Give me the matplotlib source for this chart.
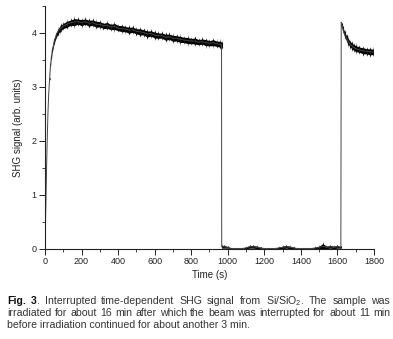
import numpy as np
import matplotlib
matplotlib.use("Agg")
import matplotlib.pyplot as plt
from matplotlib.ticker import MultipleLocator

plt.rcParams['font.family'] = ['Liberation Sans', 'DejaVu Sans']
plt.rcParams['mathtext.fontset'] = 'custom'
plt.rcParams['mathtext.rm'] = 'Liberation Sans'

# beam on (first ~16 min)
times1 = [0, 4, 8, 12, 16, 20, 25, 30, 35, 40, 50, 60, 70, 80, 90, 100,
          120, 140, 160, 180, 200, 220, 240, 260, 280, 300, 320, 340, 360, 380, 400,
          420, 440, 460, 480, 500, 520, 540, 560, 580, 600, 620, 640, 660, 680, 700,
          720, 740, 760, 780, 800, 820, 840, 860, 880, 900, 920, 940, 960, 966]
shg1 = [0.0, 0.7, 1.4, 2.0, 2.5, 2.85, 3.15, 3.4, 3.55, 3.68, 3.84, 3.95, 4.02, 4.07, 4.10, 4.13,
        4.16, 4.19, 4.20, 4.21, 4.19, 4.21, 4.18, 4.19, 4.16, 4.16, 4.13, 4.14, 4.11, 4.12, 4.09,
        4.08, 4.07, 4.05, 4.06, 4.03, 4.02, 4.01, 3.98, 3.99, 3.96, 3.95, 3.95, 3.92, 3.93, 3.90,
        3.90, 3.88, 3.87, 3.86, 3.85, 3.85, 3.83, 3.84, 3.82, 3.81, 3.82, 3.80, 3.79, 3.78]
noise1 = [0, 0, 0, 0, 0, 0, 0.01, 0.02, 0.03, 0.04, 0.05, 0.05, 0.06, 0.06, 0.06, 0.06,
          0.07, 0.06, 0.08, 0.06, 0.07, 0.06, 0.07, 0.06, 0.07, 0.06, 0.06, 0.07, 0.06, 0.07, 0.06,
          0.07, 0.06, 0.07, 0.06, 0.06, 0.07, 0.06, 0.07, 0.06, 0.07, 0.06, 0.06, 0.07, 0.06, 0.07,
          0.06, 0.07, 0.06, 0.07, 0.06, 0.07, 0.06, 0.06, 0.07, 0.06, 0.07, 0.06, 0.07, 0.06]

# beam blocked (~11 min)
times2 = [967, 980, 1000, 1020, 1040, 1060, 1080, 1100, 1120, 1140, 1160, 1180, 1200,
          1220, 1240, 1260, 1280, 1300, 1320, 1340, 1360, 1380, 1400, 1420, 1440,
          1460, 1480, 1500, 1520, 1540, 1560, 1580, 1600, 1619]
shg2 = [0.04, 0.04, 0.03, 0.01, 0.01, 0.01, 0.01, 0.02, 0.04, 0.04, 0.03, 0.02, 0.01,
        0.01, 0.01, 0.01, 0.02, 0.03, 0.04, 0.03, 0.02, 0.01, 0.01, 0.01, 0.01,
        0.01, 0.02, 0.03, 0.05, 0.03, 0.04, 0.03, 0.04, 0.03]
noise2 = [0.03, 0.03, 0.02, 0.005, 0.005, 0.005, 0.005, 0.02, 0.03, 0.03, 0.03, 0.01, 0.005,
          0.005, 0.005, 0.005, 0.02, 0.03, 0.03, 0.03, 0.02, 0.005, 0.005, 0.005, 0.005,
          0.005, 0.02, 0.03, 0.06, 0.03, 0.03, 0.03, 0.03, 0.02]

# beam on again (~3 min)
times3 = [1621, 1624, 1630, 1640, 1650, 1660, 1670, 1680, 1690, 1700, 1720, 1740, 1760, 1780, 1796]
shg3 = [4.20, 4.15, 4.07, 3.97, 3.90, 3.84, 3.79, 3.76, 3.73, 3.71, 3.69, 3.67, 3.66, 3.65, 3.65]
noise3 = [0.0, 0.03, 0.05, 0.06, 0.06, 0.07, 0.06, 0.07, 0.06, 0.07, 0.06, 0.07, 0.06, 0.07, 0.06]

caption1 = [[("Fig.", True)], [("3", True), (".", False)], [("Interrupted", False)],
            [("time-dependent", False)], [("SHG", False)], [("signal", False)],
            [("from", False)], [("Si/SiO$_2$.", False)], [("The", False)],
            [("sample", False)], [("was", False)]]
caption2 = "irradiated for about 16 min after which the beam was interrupted for about 11 min"
caption3 = "before irradiation continued for about another 3 min."


def put_line(fig, y, words, x0, x1, size, color):
    r = fig.canvas.get_renderer()
    W = fig.bbox.width
    made = []
    total = 0
    for w in words:
        parts = []
        for txt, bold in w:
            t = fig.text(0, y, txt, fontsize=size, color='#111' if bold else color,
                         fontweight='bold' if bold else 'normal', va='baseline')
            wd = t.get_window_extent(r).width
            parts.append((t, wd))
            total += wd
        made.append(parts)
    gap = ((x1 - x0) * W - total) / (len(made) - 1)
    x = x0 * W
    for parts in made:
        for t, wd in parts:
            t.set_x(x / W)
            x += wd
        x += gap


def main():
    t = np.array(times1 + times2 + times3, dtype=float)
    y = np.array(shg1 + shg2 + shg3)
    d = np.array(noise1 + noise2 + noise3)

    fig = plt.figure(figsize=(3.93, 3.39), dpi=100)
    ax = fig.add_axes([0.1145, 0.2655, 0.837, 0.717])

    # noisy trace: grey whiskers, dark core band, thin line
    ax.vlines(t, y - 1.35 * d, y + 1.35 * d, color='#999999', lw=0.5)
    ax.fill_between(t, y - 0.8 * d, y + 0.8 * d, color='black', lw=0)
    ax.vlines(t, y - d, y + d, color='#111111', lw=0.8)
    ax.plot(t, y, color='#444444', lw=0.7)

    ax.set_xlim(0, 1800)
    ax.set_ylim(0, 4.5)
    ax.xaxis.set_major_locator(MultipleLocator(200))
    ax.xaxis.set_minor_locator(MultipleLocator(100))
    ax.yaxis.set_major_locator(MultipleLocator(1))
    ax.yaxis.set_minor_locator(MultipleLocator(0.5))
    for s in ['top', 'right']:
        ax.spines[s].set_visible(False)
    for s in ['left', 'bottom']:
        ax.spines[s].set_linewidth(0.8)
        ax.spines[s].set_color('#222222')
    ax.tick_params(which='major', length=4, width=0.7, colors='#222222', labelsize=6.5, pad=2)
    ax.tick_params(which='minor', length=2, width=0.6, colors='#222222')

    ax.set_xlabel("Time (s)", fontsize=7, color='#222222', labelpad=3)
    ax.set_ylabel("SHG signal (arb. units)", fontsize=7, color='#222222', labelpad=6)

    cs = 7.6
    put_line(fig, 1 - 304 / 339, caption1, 7 / 393, 390 / 393, cs, '#333333')
    put_line(fig, 1 - 316 / 339, [[(w, False)] for w in caption2.split()],
             7 / 393, 390 / 393, cs, '#333333')
    fig.text(7 / 393, 1 - 328 / 339, caption3, fontsize=cs, color='#333333', va='baseline')

    fig.savefig("out.png", dpi=100)


if __name__ == "__main__":
    main()
